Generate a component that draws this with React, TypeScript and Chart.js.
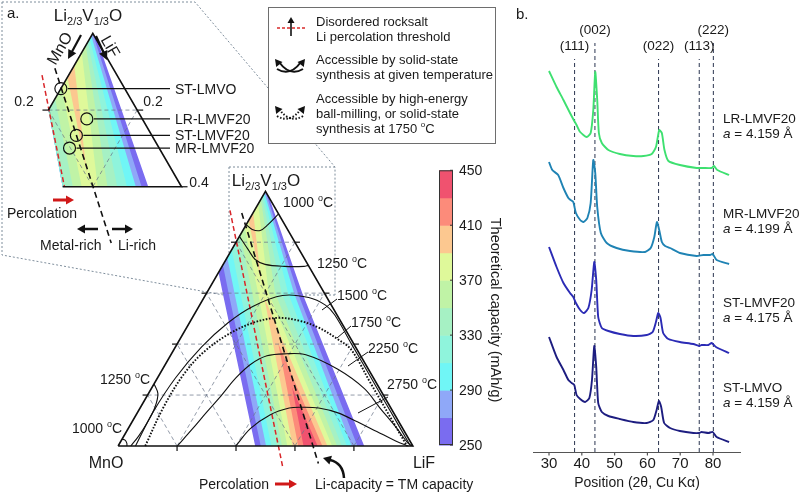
import React, { useEffect, useRef } from 'react';
import { Chart, registerables } from 'chart.js';

Chart.register(...registerables);

const FONT = '"Liberation Sans", Arial, Helvetica, sans-serif';
const S3 = Math.sqrt(3) / 2;

// ================= Panel a : ternary data =================
// compositions as [t, f]: t = Li2/3V1/3O fraction, f = LiF fraction (MnO = 1 - t - f)
const temp1000Top = [[0.869, 0], [0.850, 0.030], [0.846, 0.059], [0.869, 0.074], [0.911, 0.089]];
const temp1000Low = [[0.027, 0], [0.023, 0.012], [0.011, 0.024], [0, 0.030]];
const temp1250Top = [[0.823, 0], [0.770, 0.057], [0.732, 0.099], [0.713, 0.142], [0.705, 0.212], [0.705, 0.278], [0.709, 0.291]];
const temp1250Low = [[0.244, 0], [0.206, 0.032], [0.152, 0.049], [0.092, 0.053], [0.038, 0.050], [0, 0.043]];
const temp1500 = [[0, 0.059], [0.133, 0.052], [0.267, 0.061], [0.389, 0.089], [0.484, 0.131], [0.549, 0.184], [0.591, 0.262], [0.583, 0.355], [0.553, 0.427], [0.515, 0.477], [0.4, 0.592], [0.3, 0.692], [0.15, 0.842], [0, 0.992]];
const temp1750 = [[0, 0.092], [0.149, 0.078], [0.274, 0.081], [0.362, 0.103], [0.438, 0.154], [0.484, 0.217], [0.503, 0.287], [0.492, 0.368], [0.465, 0.447], [0.419, 0.536], [0.377, 0.603], [0.25, 0.73], [0.1, 0.88], [0, 0.98]];
const temp2250 = [[0, 0.201], [0.065, 0.218], [0.133, 0.234], [0.198, 0.251], [0.267, 0.266], [0.320, 0.289], [0.354, 0.328], [0.362, 0.390], [0.358, 0.458], [0.301, 0.595], [0.225, 0.723], [0.149, 0.814], [0.072, 0.908], [0.011, 0.978], [0, 1]];
const temp2750 = [[0, 0.399], [0.069, 0.415], [0.122, 0.454], [0.149, 0.506], [0.152, 0.548], [0.149, 0.606], [0.130, 0.681], [0.095, 0.764], [0.057, 0.849], [0.019, 0.934], [0, 0.985]];

const percolationMain = [[0.925, -0.083], [-0.080, 0.598]];
const percolationInset = [[0.891, -0.060], [0.600, 0.136]];
const liTmMain = [[0.915, -0.038], [-0.069, 0.714]];
const liTmInset = [[0.909, -0.040], [0.453, 0.315]];

const sampleLabels = ['ST-LMVO', 'LR-LMVF20', 'ST-LMVF20', 'MR-LMVF20'];
const sampleT = [0.856, 0.777, 0.734, 0.701];
const sampleF = [0.000, 0.098, 0.096, 0.097];

// capacity contours (mAh/g): f of the Li-limited and TM-limited boundary at t = 0, 0.6, 1.0
const capLevels = [250, 270, 290, 310, 330, 350, 370, 390, 410, 430, 450];
const capTicks = [250, 290, 330, 370, 410, 450];
const capColors = ['#7a6cf0', '#8fa8f8', '#70f6f6', '#8ff4dc', '#a6f1c4', '#c0f3a6', '#dff99a', '#fcc890', '#fc8b7a', '#f0526f'];
const contourT = [0, 0.6, 1.0];
const liLimitF0 = [0.465, 0.484, 0.502, 0.520, 0.538, 0.556, 0.574, 0.592, 0.611, 0.629];
const liLimitF6 = [0.055, 0.075, 0.095, 0.115, 0.135, 0.155, 0.175, 0.193, 0.210, 0.228];
const liLimitF10 = [-0.215, -0.195, -0.175, -0.155, -0.135, -0.115, -0.095, -0.077, -0.060, -0.042];
const tmLimitF0 = [0.835, 0.812, 0.792, 0.776, 0.759, 0.743, 0.726, 0.710, 0.693, 0.677];
const tmLimitF6 = [0.325, 0.310, 0.297, 0.277, 0.255, 0.233, 0.211, 0.190, 0.170, 0.150];
const tmLimitF10 = [0.005, 0.0, -0.005, -0.010, -0.015, -0.020, -0.030, -0.050, -0.070, -0.090];

const gridFractions = [0.2, 0.4, 0.6, 0.8];

// ================= Panel b : XRD data =================
const thetaLR = [30.0, 32.3, 34.4, 36.4, 37.7, 38.4, 39.5, 41.5, 42.7, 43.5, 44.1, 44.7, 45.2, 46.1, 48.1, 51.6, 55.7, 58.8, 61.3, 62.6, 63.6, 64.4, 65.2, 66.4, 69.9, 75.0, 77.0, 79.6, 80.3, 81.3, 84.9];
const intLR = [381, 365, 352, 339, 331, 327, 320, 315, 319, 342, 380, 352, 319, 309, 302, 298, 296, 296, 298, 305, 322, 319, 302, 291, 287, 284, 284, 284, 286, 282, 277];
const thetaMR = [30.0, 31.0, 32.8, 34.4, 35.9, 36.6, 37.4, 38.2, 39.5, 40.5, 41.7, 42.7, 43.5, 44.1, 44.7, 45.8, 47.6, 50.6, 54.7, 59.3, 61.0, 62.1, 62.9, 63.6, 64.4, 65.4, 66.9, 69.9, 75.0, 77.0, 79.1, 79.9, 81.1, 84.9];
const intMR = [290, 282, 277, 264, 254, 252, 250, 239, 232, 230, 234, 249, 292, 279, 245, 219, 209, 204, 201, 200, 204, 215, 230, 222, 210, 206, 204, 199, 196, 197, 197, 198, 192, 188];
const thetaST = [30.0, 32.3, 34.4, 36.4, 37.4, 38.2, 39.5, 40.7, 42.0, 43.0, 43.8, 44.4, 45.0, 46.1, 48.1, 51.6, 55.7, 59.8, 61.6, 62.6, 63.3, 64.0, 64.8, 66.4, 69.9, 74.0, 75.8, 76.5, 78.6, 79.6, 80.9, 84.9];
const intST = [205, 185, 169, 159, 155, 149, 142, 139, 144, 162, 190, 172, 135, 124, 121, 118, 116, 117, 120, 130, 139, 134, 119, 113, 110, 108, 106, 107, 107, 109, 105, 99];
const thetaLMVO = [30.0, 32.3, 34.4, 35.9, 36.9, 37.7, 38.4, 39.5, 41.0, 42.3, 43.1, 43.8, 44.4, 45.0, 46.1, 48.1, 51.6, 55.7, 59.8, 61.8, 62.8, 63.5, 64.2, 65.1, 66.9, 69.9, 74.0, 75.8, 76.5, 78.6, 79.9, 81.1, 84.9];
const intLMVO = [115, 95, 82, 72, 69, 67, 57, 53, 50, 54, 72, 106, 85, 49, 40, 36, 33, 30, 29, 32, 42, 51, 45, 29, 24, 21, 19, 19, 20, 19, 20, 15, 10];

const xrdNames = ['LR-LMVF20', 'MR-LMVF20', 'ST-LMVF20', 'ST-LMVO'];
const xrdLattice = ['4.159', '4.199', '4.175', '4.159'];
const xrdColors = ['#3ee070', '#1f83b4', '#2b2bb5', '#1d1d80'];
const xrdLabelY = [334, 239, 150, 65];
const xrdTicks = [30, 40, 50, 60, 70, 80];
const xrdTitle = 'Position (2θ, Cu Kα)';
const hklLabels = ['(111)', '(002)', '(022)', '(113)', '(222)'];
const hklPos = [37.8, 44.0, 63.4, 75.8, 80.1];
const hklRow = [1, 0, 1, 1, 0];

// ================= drawing helpers =================
type Part = [string, number, number?, boolean?];

function tpx(chart: any, tf: number[], inset = false): [number, number] {
  const xs = chart.scales[inset ? 'xi' : 'x'];
  const ys = chart.scales[inset ? 'yi' : 'y'];
  return [xs.getPixelForValue(tf[1] + tf[0] / 2), ys.getPixelForValue(tf[0] * S3)];
}
function polyPath(ctx: any, chart: any, pts: number[][], inset: boolean) {
  ctx.beginPath();
  pts.forEach((p, i) => {
    const [x, y] = tpx(chart, p, inset);
    if (i) ctx.lineTo(x, y); else ctx.moveTo(x, y);
  });
  ctx.closePath();
}
function tLine(ctx: any, chart: any, a: number[], b: number[], inset: boolean) {
  const [x1, y1] = tpx(chart, a, inset);
  const [x2, y2] = tpx(chart, b, inset);
  ctx.beginPath(); ctx.moveTo(x1, y1); ctx.lineTo(x2, y2); ctx.stroke();
}
function seg(ctx: any, x1: number, y1: number, x2: number, y2: number) {
  ctx.beginPath(); ctx.moveTo(x1, y1); ctx.lineTo(x2, y2); ctx.stroke();
}
function arrowHead(ctx: any, x: number, y: number, ang: number, len: number, wid: number) {
  const c = Math.cos(ang), s = Math.sin(ang);
  ctx.beginPath();
  ctx.moveTo(x, y);
  ctx.lineTo(x - len * c + wid * s, y - len * s - wid * c);
  ctx.lineTo(x - len * c - wid * s, y - len * s + wid * c);
  ctx.closePath();
  ctx.fill();
}
function arrow(ctx: any, x1: number, y1: number, x2: number, y2: number, color: string, lw: number, len: number, wid: number) {
  const ang = Math.atan2(y2 - y1, x2 - x1);
  ctx.save();
  ctx.strokeStyle = color; ctx.fillStyle = color; ctx.lineWidth = lw; ctx.setLineDash([]);
  seg(ctx, x1, y1, x2 - len * 0.7 * Math.cos(ang), y2 - len * 0.7 * Math.sin(ang));
  arrowHead(ctx, x2, y2, ang, len, wid);
  ctx.restore();
}
function rich(ctx: any, parts: Part[], x: number, y: number, align = 'left', color = '#1a1a1a') {
  ctx.save();
  ctx.fillStyle = color; ctx.textBaseline = 'alphabetic'; ctx.textAlign = 'left';
  const fontOf = (p: Part) => `${p[3] ? 'italic ' : ''}${p[1]}px ${FONT}`;
  let w = 0;
  for (const p of parts) { ctx.font = fontOf(p); w += ctx.measureText(p[0]).width; }
  let cx = align === 'center' ? x - w / 2 : align === 'right' ? x - w : x;
  for (const p of parts) {
    ctx.font = fontOf(p);
    ctx.fillText(p[0], cx, y + (p[2] || 0));
    cx += ctx.measureText(p[0]).width;
  }
  ctx.restore();
}
function text(ctx: any, s: string, x: number, y: number, size: number, align = 'left') {
  rich(ctx, [[s, size]], x, y, align);
}
function degC(s: string, size = 14): Part[] {
  return [[s + ' ', size], ['o', Math.round(size * 0.65), -size * 0.42], ['C', size]];
}
function formula(size: number): Part[] {
  const sub = Math.round(size * 0.65);
  return [['Li', size], ['2/3', sub, size * 0.25], ['V', size], ['1/3', sub, size * 0.25], ['O', size]];
}

const mainClip = [[0, 0], [0, 1], [1, 0]];
const insetClip = [[1, 0], [0.8, 0], [0.6, 0.132], [0.6, 0.4]];

function drawBands(chart: any, inset: boolean) {
  const ctx = chart.ctx;
  for (let i = 0; i < capColors.length; i++) {
    ctx.save();
    polyPath(ctx, chart, inset ? insetClip : mainClip, inset);
    ctx.clip();
    const L = [[-0.3, liLimitF0[i]], [contourT[0], liLimitF0[i]], [contourT[1], liLimitF6[i]], [contourT[2], liLimitF10[i]], [1.3, liLimitF10[i]], [1.3, 3], [-0.3, 3]];
    polyPath(ctx, chart, L, inset);
    ctx.clip();
    const R = [[-0.3, tmLimitF0[i]], [contourT[0], tmLimitF0[i]], [contourT[1], tmLimitF6[i]], [contourT[2], tmLimitF10[i]], [1.3, tmLimitF10[i]], [1.3, -3], [-0.3, -3]];
    polyPath(ctx, chart, R, inset);
    ctx.fillStyle = capColors[i];
    ctx.fill();
    ctx.restore();
  }
}

const panelAPlugin = {
  id: 'panelA',
  beforeDatasetsDraw(chart: any) {
    const ctx = chart.ctx;
    ctx.save();
    // dotted zoom frame
    ctx.strokeStyle = '#7f8e9c'; ctx.lineWidth = 1; ctx.setLineDash([2, 2]);
    const frames = [
      [[2, 2], [195, 2], [335, 167], [335, 295]],
      [[229, 167], [335, 167]],
      [[229, 167], [229, 295], [335, 295]],
      [[2, 2], [2, 255], [229, 296]],
    ];
    frames.forEach((f) => {
      ctx.beginPath();
      f.forEach((p, i) => (i ? ctx.lineTo(p[0], p[1]) : ctx.moveTo(p[0], p[1])));
      ctx.stroke();
    });
    ctx.restore();

    drawBands(chart, false);
    drawBands(chart, true);

    // grid
    ctx.save();
    ctx.strokeStyle = 'rgba(105,115,135,0.9)'; ctx.lineWidth = 0.8; ctx.setLineDash([4, 3]);
    gridFractions.forEach((v) => {
      tLine(ctx, chart, [v, 0], [v, 1 - v], false);
      tLine(ctx, chart, [0, v], [1 - v, v], false);
      tLine(ctx, chart, [0, 1 - v], [1 - v, 0], false);
    });
    tLine(ctx, chart, [0.8, 0], [0.8, 0.2], true);
    tLine(ctx, chart, [0.8, 0.2], [0.6, 0.2], true);
    tLine(ctx, chart, [0.8, 0], [0.6, 0.2], true);
    ctx.restore();
  },
  afterDatasetsDraw(chart: any) {
    const ctx = chart.ctx;
    ctx.save();
    ctx.strokeStyle = '#111'; ctx.lineWidth = 1.2; ctx.setLineDash([]);
    // main ticks
    gridFractions.forEach((v) => {
      let [x, y] = tpx(chart, [0, v], false); seg(ctx, x, y, x, y + 5);
      [x, y] = tpx(chart, [v, 0], false); seg(ctx, x, y, x - 5, y);
      [x, y] = tpx(chart, [v, 1 - v], false); seg(ctx, x, y, x + 5, y);
    });
    // inset ticks
    let [ix, iy] = tpx(chart, [0.8, 0], true); seg(ctx, ix, iy, ix - 6, iy);
    [ix, iy] = tpx(chart, [0.8, 0.2], true); seg(ctx, ix, iy, ix + 6, iy);
    [ix, iy] = tpx(chart, [0.6, 0.4], true); seg(ctx, ix, iy, ix + 6, iy);

    // temperature labels + leaders
    rich(ctx, degC('1000'), 283, 207);
    rich(ctx, degC('1250'), 317, 268);
    rich(ctx, degC('1500'), 337, 300);
    rich(ctx, degC('1750'), 351, 327);
    rich(ctx, degC('2250'), 368, 353);
    rich(ctx, degC('2750'), 387, 389);
    rich(ctx, degC('1250'), 100, 384);
    rich(ctx, degC('1000'), 72, 433);
    ctx.lineWidth = 1;
    seg(ctx, 337, 299, 322, 310);
    seg(ctx, 351, 326, 337, 338);
    seg(ctx, 368, 352, 348, 366);
    seg(ctx, 388, 397, 358, 413);

    // main labels
    rich(ctx, formula(17), 266, 186, 'center');
    text(ctx, 'MnO', 106, 468, 16, 'center');
    text(ctx, 'LiF', 424, 468, 16, 'center');
    text(ctx, 'Percolation', 199, 489, 14);
    arrow(ctx, 275, 484, 297, 484, '#d01818', 3, 8, 4.5);
    text(ctx, 'Li-capacity = TM capacity', 315, 489, 14);
    ctx.save();
    ctx.strokeStyle = '#111'; ctx.fillStyle = '#111'; ctx.lineWidth = 2.5;
    ctx.beginPath(); ctx.moveTo(344, 478); ctx.quadraticCurveTo(343, 463, 330, 460); ctx.stroke();
    arrowHead(ctx, 323, 458, Math.atan2(-2, -7), 8, 4.5);
    ctx.restore();

    // inset labels
    text(ctx, 'a.', 7, 18, 15);
    rich(ctx, formula(17), 88, 21, 'center');
    ctx.save(); ctx.translate(59, 48); ctx.rotate(-Math.PI / 3); text(ctx, 'MnO', 0, 6, 16, 'center'); ctx.restore();
    ctx.save(); ctx.translate(111, 46); ctx.rotate(Math.PI / 3); text(ctx, 'LiF', 0, 6, 16, 'center'); ctx.restore();
    arrow(ctx, 81, 35, 68, 59, '#111', 2.2, 9, 4.5);
    arrow(ctx, 96, 36, 107, 60, '#111', 2.2, 9, 4.5);
    text(ctx, '0.2', 24, 106, 14, 'center');
    text(ctx, '0.2', 153, 106, 14, 'center');
    text(ctx, '0.4', 199, 187, 14, 'center');
    ctx.lineWidth = 1.2;
    sampleLabels.forEach((s, i) => {
      const [cx, cy] = tpx(chart, [sampleT[i], sampleF[i]], true);
      seg(ctx, cx + 7, cy, 170, cy);
      text(ctx, s, 175, cy + 5, 14);
    });
    text(ctx, 'Percolation', 7, 218, 14);
    arrow(ctx, 53, 200, 74, 200, '#d01818', 3, 8, 4.5);
    arrow(ctx, 98, 229, 77, 229, '#111', 2.5, 8, 4.5);
    arrow(ctx, 112, 229, 133, 229, '#111', 2.5, 8, 4.5);
    text(ctx, 'Metal-rich', 40, 250, 14);
    text(ctx, 'Li-rich', 118, 250, 14);

    // legend box
    ctx.save();
    ctx.fillStyle = '#fff'; ctx.fillRect(268.5, 7.5, 227, 136);
    ctx.strokeStyle = '#6e6e6e'; ctx.lineWidth = 1; ctx.strokeRect(268.5, 7.5, 227, 136);
    ctx.strokeStyle = '#d82a2a'; ctx.lineWidth = 1.5; ctx.setLineDash([3, 2]);
    seg(ctx, 277, 28, 305, 28);
    ctx.restore();
    arrow(ctx, 291, 36, 291, 17, '#111', 1.6, 6, 3.5);
    const crossIcon = (cy: number, dotted: boolean) => {
      ctx.save();
      ctx.strokeStyle = '#111'; ctx.fillStyle = '#111'; ctx.lineWidth = 2;
      ctx.setLineDash(dotted ? [1.5, 1.8] : []);
      ctx.beginPath(); ctx.moveTo(277, cy + 4); ctx.quadraticCurveTo(290, cy + 12, 301, cy - 3); ctx.stroke();
      ctx.beginPath(); ctx.moveTo(303, cy + 4); ctx.quadraticCurveTo(290, cy + 12, 279, cy - 3); ctx.stroke();
      ctx.setLineDash([]);
      arrowHead(ctx, 305, cy - 6, -0.9, 7, 4);
      arrowHead(ctx, 275, cy - 6, Math.PI + 0.9, 7, 4);
      ctx.restore();
    };
    crossIcon(65, false);
    crossIcon(112, true);
    text(ctx, 'Disordered rocksalt', 316, 25.5, 13);
    text(ctx, 'Li percolation threshold', 316, 40.5, 13);
    text(ctx, 'Accessible by solid-state', 316, 64, 13);
    text(ctx, 'synthesis at given temperature', 316, 78.5, 13);
    text(ctx, 'Accessible by high-energy', 316, 102.5, 13);
    text(ctx, 'ball-milling, or solid-state', 316, 117.5, 13);
    rich(ctx, degC('synthesis at 1750', 13), 316, 132.5);

    // colorbar
    const cap = chart.scales.cap;
    const x0 = 439, x1 = 453;
    for (let i = 0; i < capColors.length; i++) {
      const yt = cap.getPixelForValue(capLevels[i + 1]);
      const yb = cap.getPixelForValue(capLevels[i]);
      ctx.fillStyle = capColors[i];
      ctx.fillRect(x0, yt, x1 - x0, yb - yt + 0.5);
    }
    ctx.strokeStyle = '#333'; ctx.lineWidth = 1;
    ctx.strokeRect(x0 + 0.5, cap.getPixelForValue(450) + 0.5, x1 - x0 - 1, cap.getPixelForValue(250) - cap.getPixelForValue(450) - 1);
    capTicks.forEach((v) => {
      const y = cap.getPixelForValue(v);
      seg(ctx, x1 - 3, y, x1, y);
      text(ctx, String(v), 459, y + 5, 14);
    });
    ctx.save(); ctx.translate(496, 310); ctx.rotate(Math.PI / 2);
    text(ctx, 'Theoretical capacity (mAh/g)', 0, 5, 14.5, 'center');
    ctx.restore();

    text(ctx, 'b.', 516, 19, 15);
    ctx.restore();
  },
};

function tds(pts: number[][], inset: boolean, style: any) {
  return {
    data: pts.map((p) => ({ x: p[1] + p[0] / 2, y: p[0] * S3 })),
    xAxisID: inset ? 'xi' : 'x',
    yAxisID: inset ? 'yi' : 'y',
    showLine: true,
    pointRadius: 0,
    fill: false,
    borderColor: '#111',
    borderWidth: 1.1,
    tension: 0.35,
    ...style,
  };
}

function configA(): any {
  const edge = { borderWidth: 1.6, tension: 0 };
  const datasets: any[] = [
    tds([[0, 0], [0, 1], [1, 0], [0, 0]], false, edge),
    tds([[0.8, 0], [1, 0], [0.6, 0.4], [0.6, 0.132]], true, edge),
    ...[temp1000Top, temp1000Low, temp1250Top, temp1250Low, temp1500, temp2250, temp2750].map((c) => tds(c, false, {})),
    tds(temp1750, false, { borderDash: [1.6, 1.6], borderWidth: 1.9 }),
    tds(percolationMain, false, { borderColor: '#d8262a', borderDash: [5, 3], borderWidth: 1.5, tension: 0 }),
    tds(liTmMain, false, { borderColor: '#111', borderDash: [6, 4], borderWidth: 1.6, tension: 0 }),
    tds(percolationInset, true, { borderColor: '#d8262a', borderDash: [5, 3], borderWidth: 1.5, tension: 0 }),
    tds(liTmInset, true, { borderColor: '#111', borderDash: [6, 4], borderWidth: 1.6, tension: 0 }),
    {
      data: sampleT.map((t, i) => ({ x: sampleF[i] + t / 2, y: t * S3 })),
      xAxisID: 'xi', yAxisID: 'yi', showLine: false,
      pointRadius: 6, pointBorderColor: '#111', pointBorderWidth: 1.2, pointBackgroundColor: 'rgba(0,0,0,0)',
    },
  ];
  return {
    type: 'scatter',
    data: { datasets },
    options: {
      responsive: false, animation: false, devicePixelRatio: 1, events: [],
      layout: { padding: 0 },
      plugins: { legend: { display: false }, tooltip: { enabled: false } },
      scales: {
        x: { type: 'linear', display: false, min: -0.37624, max: 1.37294 },
        y: { type: 'linear', display: false, min: -0.13531, max: 1.49175 },
        xi: { type: 'linear', axis: 'x', display: false, min: 0.30702, max: 1.4693 },
        yi: { type: 'linear', axis: 'y', display: false, min: -0.15591, max: 0.92524 },
        cap: { type: 'linear', axis: 'y', display: false, min: 220.32, max: 568.73 },
      },
    },
    plugins: [panelAPlugin],
  };
}

const panelBPlugin = {
  id: 'panelB',
  afterDatasetsDraw(chart: any) {
    const ctx = chart.ctx;
    const xs = chart.scales.x, ys = chart.scales.y;
    const area = chart.chartArea;
    ctx.save();
    ctx.strokeStyle = '#555'; ctx.lineWidth = 1.2; ctx.setLineDash([]);
    const axY = area.bottom + 0.5;
    seg(ctx, area.left, axY, area.right, axY);
    xrdTicks.forEach((v) => {
      const x = xs.getPixelForValue(v);
      seg(ctx, x, axY, x, axY + 3);
      text(ctx, String(v), x, axY + 15.5, 15, 'center');
    });
    text(ctx, xrdTitle, (area.left + area.right) / 2, axY + 34.5, 14, 'center');
    hklLabels.forEach((s, i) => {
      text(ctx, s, xs.getPixelForValue(hklPos[i]), hklRow[i] ? 50 : 34, 13.5, 'center');
    });
    const lx = xs.getPixelForValue(83.05);
    xrdNames.forEach((s, i) => {
      const y = ys.getPixelForValue(xrdLabelY[i]);
      text(ctx, s, lx, y + 5, 13.5);
      rich(ctx, [['a', 13.5, 0, true], [' = ' + xrdLattice[i] + ' Å', 13.5]], lx, y + 20);
    });
    ctx.restore();
  },
};

function configB(): any {
  const series = [[thetaLR, intLR], [thetaMR, intMR], [thetaST, intST], [thetaLMVO, intLMVO]];
  const datasets: any[] = series.map(([xs, ys], i) => ({
    data: xs.map((x, j) => ({ x, y: ys[j] })),
    showLine: true, pointRadius: 0, borderColor: xrdColors[i], borderWidth: 1.9, tension: 0.2, fill: false,
  }));
  hklPos.forEach((p, i) => {
    datasets.push({
      data: [{ x: p, y: 0 }, { x: p, y: hklRow[i] ? 393 : 409 }],
      showLine: true, pointRadius: 0, borderColor: '#2b3550', borderWidth: 1, borderDash: [4, 3], tension: 0,
    });
  });
  return {
    type: 'scatter',
    data: { datasets },
    options: {
      responsive: false, animation: false, devicePixelRatio: 1, events: [],
      layout: { padding: { left: 3, right: 61, top: 0, bottom: 41 } },
      plugins: { legend: { display: false }, tooltip: { enabled: false } },
      scales: {
        x: {
          type: 'linear', display: false, min: 25.12, max: 88.53,
          afterBuildTicks: (s: any) => { s.ticks = xrdTicks.map((v) => ({ value: v })); },
        },
        y: { type: 'linear', display: false, min: 0, max: 452 },
      },
    },
    plugins: [panelBPlugin],
  };
}

export default function App() {
  const aRef = useRef<HTMLCanvasElement>(null);
  const bRef = useRef<HTMLCanvasElement>(null);
  useEffect(() => {
    document.body.style.margin = '0';
    const ca = new Chart(aRef.current as HTMLCanvasElement, configA());
    const cb = new Chart(bRef.current as HTMLCanvasElement, configB());
    return () => { ca.destroy(); cb.destroy(); };
  }, []);
  return (
    <div style={{ position: 'fixed', left: 0, top: 0, width: 802, height: 493, background: '#fff', overflow: 'hidden' }}>
      <canvas ref={aRef} width={530} height={493} style={{ position: 'absolute', left: 0, top: 0 }} />
      <canvas ref={bRef} width={272} height={493} style={{ position: 'absolute', left: 530, top: 0 }} />
    </div>
  );
}
